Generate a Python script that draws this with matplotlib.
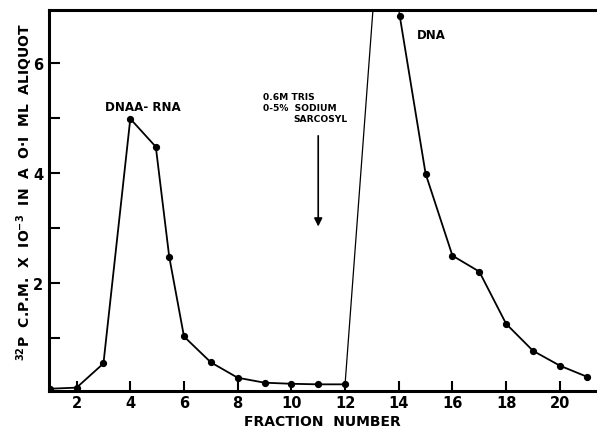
import matplotlib
matplotlib.use('Agg')
import matplotlib.pyplot as plt

plt.rcParams['font.family'] = ['DejaVu Sans']
plt.rcParams['font.weight'] = 'bold'
plt.rcParams['mathtext.default'] = 'bf'

# fraction number vs 32P counts (x 10^-3)
fraction = [1, 2, 3, 4, 4.95, 5.45, 6, 7, 8, 9, 10, 11, 12]
cpm = [0.07, 0.09, 0.53, 4.98, 4.47, 2.47, 1.02, 0.55, 0.27, 0.18, 0.16, 0.15, 0.15]

# off-scale peak between 12 and 14
peak_x = [12, 13.35, 14.04]
peak_y = [0.15, 9.0, 6.84]

fraction2 = [14.04, 15, 16, 17, 18, 19, 20, 21]
cpm2 = [6.84, 3.98, 2.49, 2.2, 1.25, 0.76, 0.49, 0.29]

xticks = [2, 4, 6, 8, 10, 12, 14, 16, 18, 20]
yticks = [2, 4, 6]
yminor = [1, 3, 5]

fig = plt.figure(figsize=(5.97, 4.35), dpi=100)
ax = fig.add_axes([0.082, 0.099, 0.916, 0.876])

ax.plot(fraction, cpm, color='black', lw=1.3, marker='o', ms=4.2)
ax.plot(peak_x, peak_y, color='black', lw=0.9)
ax.plot(fraction2, cpm2, color='black', lw=1.3, marker='o', ms=4.2)

ax.set_xlim(0.97, 21.34)
ax.set_ylim(0.03, 6.96)
ax.set_xticks(xticks)
ax.set_yticks(yticks)
ax.set_yticks(yminor, minor=True)
ax.tick_params(axis='both', which='both', direction='in', width=1.5, labelsize=10.5)
ax.tick_params(axis='x', length=7, pad=3)
ax.tick_params(axis='y', which='both', length=8, pad=4)
for lab in ax.get_xticklabels() + ax.get_yticklabels():
    lab.set_fontweight('bold')

for s in ['left', 'bottom', 'top']:
    ax.spines[s].set_linewidth(2.2)
ax.spines['right'].set_visible(False)

ax.set_xlabel('FRACTION  NUMBER', fontsize=10, fontweight='bold', labelpad=3)
ax.set_ylabel('$^{32}$P  C.P.M.  X  IO$^{-3}$  IN  A  O·I  ML  ALIQUOT',
              fontsize=10, fontweight='bold')
ax.yaxis.set_label_coords(-0.026, 0.525)

ax.text(4.47, 5.2, 'DNAA- RNA', fontsize=8.6, fontweight='bold', ha='center', va='center')
ax.text(15.2, 6.51, 'DNA', fontsize=8.5, fontweight='bold', ha='center', va='center')
ax.text(8.95, 5.38, '0.6M TRIS', fontsize=6.6, fontweight='bold', ha='left', va='center')
ax.text(8.95, 5.18, '0-5%  SODIUM', fontsize=6.6, fontweight='bold', ha='left', va='center')
ax.text(10.06, 4.98, 'SARCOSYL', fontsize=6.6, fontweight='bold', ha='left', va='center')

ax.annotate('', xy=(11, 3.02), xytext=(11, 4.67),
            arrowprops=dict(arrowstyle='-|>', color='black', lw=1.2,
                            mutation_scale=12, shrinkA=0, shrinkB=0))

fig.savefig('out.png', dpi=100)
